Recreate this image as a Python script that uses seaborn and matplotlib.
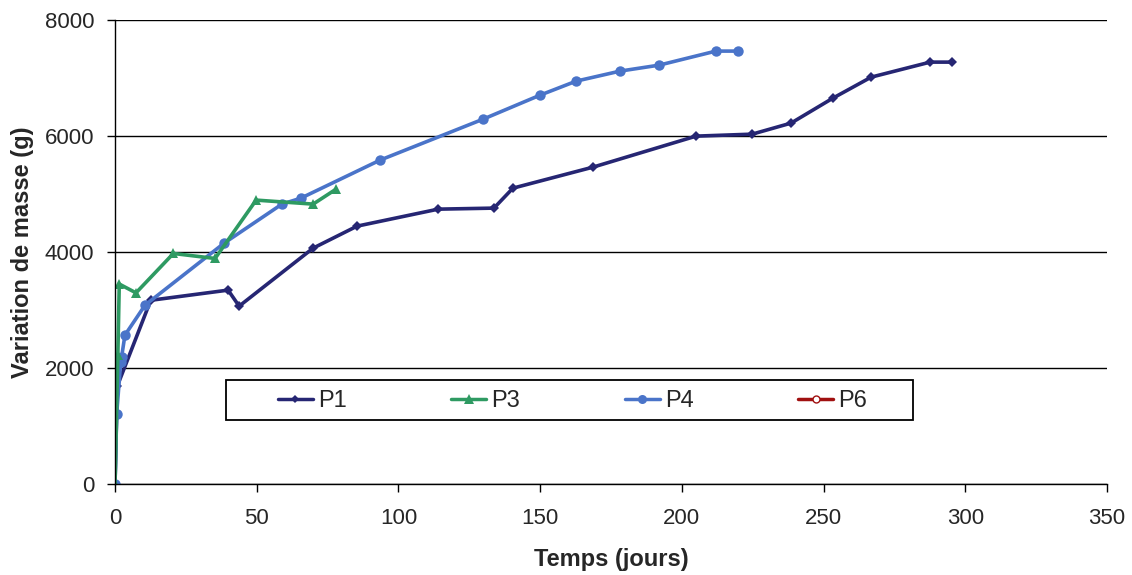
import seaborn as sns
import pandas as pd
import matplotlib.pyplot as plt
from matplotlib.lines import Line2D
from matplotlib.patches import Rectangle

# data
p1_x = [0, 0.8, 12.6, 39.9, 43.8, 69.9, 85.4, 114, 133.7, 140.4, 168.7, 205, 224.8, 238.5, 253.3, 266.8, 287.6, 295.3]
p1_y = [0, 1690, 3170, 3345, 3069, 4069, 4448, 4741, 4759, 5103, 5466, 6000, 6034, 6224, 6655, 7017, 7276, 7276]

p3_x = [0, 1.0, 1.5, 7.4, 20.6, 35.3, 49.8, 69.9, 78]
p3_y = [0, 2224, 3450, 3298, 3977, 3891, 4897, 4828, 5086]

p4_x = [0, 0.6, 2.0, 2.3, 3.5, 10.6, 38.5, 58.9, 65.6, 93.5, 129.9, 150, 162.7, 178.2, 192, 212, 219.8]
p4_y = [0, 1218, 2100, 2184, 2569, 3086, 4155, 4828, 4931, 5586, 6293, 6707, 6948, 7121, 7224, 7466, 7466]

names = ["P1", "P3", "P4", "P6"]
colors = {"P1": "#262673", "P3": "#2E9A62", "P4": "#4A74C9", "P6": "#A01010"}
markers = {"P1": "D", "P3": "^", "P4": "o", "P6": "o"}
msizes = {"P1": 5.5, "P3": 7.5, "P4": 7.5, "P6": 5}

df = pd.concat([
    pd.DataFrame({"t": p1_x, "m": p1_y, "serie": "P1"}),
    pd.DataFrame({"t": p3_x, "m": p3_y, "serie": "P3"}),
    pd.DataFrame({"t": p4_x, "m": p4_y, "serie": "P4"}),
])

sns.set_style("white")
plt.rcParams['font.family'] = ['Liberation Sans', 'DejaVu Sans']

fig = plt.figure(figsize=(11.32, 5.75), dpi=100)
ax = fig.add_axes([0.1016, 0.158, 0.8763, 0.807])

for name in ["P1", "P4", "P3"]:
    sub = df[df["serie"] == name]
    sns.lineplot(data=sub, x="t", y="m", ax=ax, sort=False, color=colors[name],
                 marker=markers[name], markersize=msizes[name], markeredgewidth=0,
                 linewidth=2.6, estimator=None, legend=False)

ax.set_xlim(0, 350)
ax.set_ylim(0, 8000)
ax.set_xticks(range(0, 351, 50))
ax.set_yticks(range(0, 8001, 2000))
ax.yaxis.grid(True, color="black", linewidth=1)
ax.set_axisbelow(True)
for s in ["top", "right"]:
    ax.spines[s].set_visible(False)
for s in ["left", "bottom"]:
    ax.spines[s].set_color("black")
    ax.spines[s].set_linewidth(1)
ax.tick_params(axis="both", labelsize=16, length=6, width=1, color="black", direction="out",
               left=True, bottom=True)
ax.tick_params(axis="x", pad=11)
ax.tick_params(axis="y", pad=9)
ax.set_xlabel("Temps (jours)", fontsize=17, fontweight="bold", labelpad=14)
ax.set_ylabel("Variation de masse (g)", fontsize=17, fontweight="bold", labelpad=8)

handles = []
for name in names:
    if name == "P6":
        h = Line2D([], [], color=colors[name], marker="o", markersize=5,
                   markerfacecolor="white", markeredgecolor=colors[name], linewidth=2.5)
    else:
        h = Line2D([], [], color=colors[name], marker=markers[name], markersize=msizes[name] - 1,
                   markeredgewidth=0, linewidth=2.5)
    handles.append(h)
leg = ax.legend(handles, names, ncol=4, loc="center left", bbox_to_anchor=(0.1643, 0.179),
                fontsize=17, frameon=False, handlelength=1.48, handletextpad=0.2,
                columnspacing=4.45, borderpad=0, borderaxespad=0)
# legend border box
ax.add_patch(Rectangle((0.1119, 0.1379), 0.6925, 0.0862, transform=ax.transAxes,
                       facecolor="white", edgecolor="black", linewidth=1.3, zorder=4))
leg.set_zorder(5)

plt.savefig("out.png", dpi=100)
